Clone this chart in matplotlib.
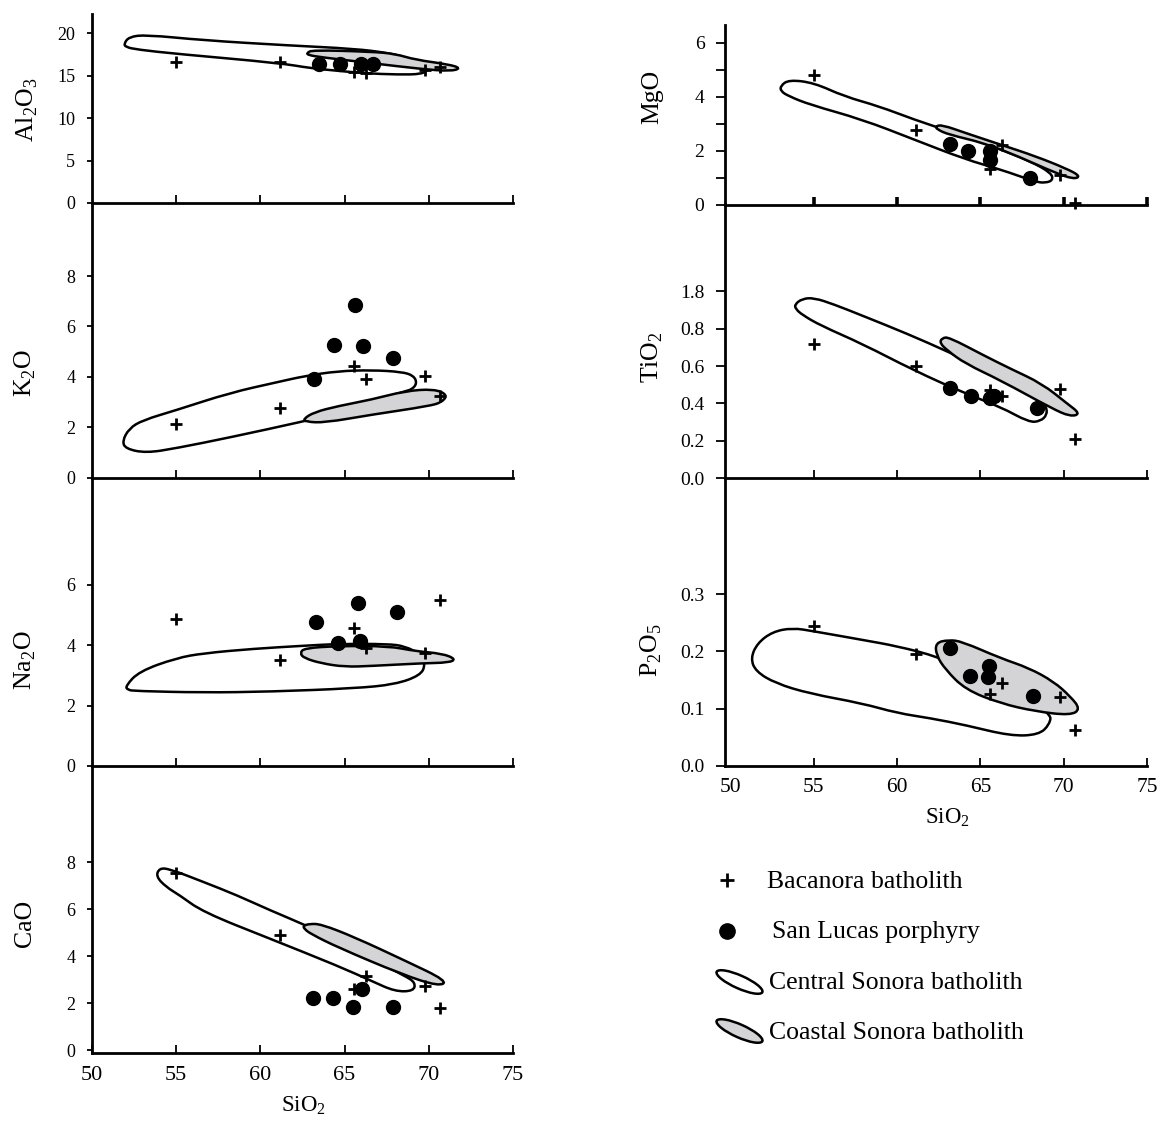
"""
Harker diagrams: Bacanora batholith vs San Lucas porphyry,
with Central / Coastal Sonora batholith fields.
"""

import matplotlib
matplotlib.use("Agg")
import matplotlib.pyplot as plt
from matplotlib.patches import PathPatch, Ellipse
from matplotlib.path import Path

plt.rcParams["font.family"] = ["Liberation Serif", "DejaVu Serif"]
plt.rcParams["mathtext.fontset"] = "custom"
plt.rcParams["mathtext.rm"] = "Liberation Serif"

W, H = 1163, 1121
COAST_GRAY = "#d4d4d6"

# ── Bacanora batholith (+) ─────────────────────────────────────────────────────
BAC_SIO2 = [55.0, 61.15, 65.55, 66.3, 69.8, 70.65]
BAC_AL2O3 = [16.6, 16.6, 15.5, 15.3, 15.7, 16.1]
BAC_K2O = [2.15, 2.75, 4.45, 3.9, 4.05, 3.25]
BAC_NA2O = [4.85, 3.5, 4.55, 3.9, 3.75, 5.5]
BAC_CAO = [7.55, 4.9, 2.6, 3.15, 2.75, 1.8]
BAC_MGO = [4.8, 2.75, 1.3, 2.2, 1.1, 0.05]
BAC_TIO2 = [0.72, 0.60, 0.47, 0.44, 0.48, 0.21]
BAC_P2O5 = [0.245, 0.195, 0.125, 0.145, 0.12, 0.063]

# ── San Lucas porphyry (●) ─────────────────────────────────────────────────────
SL_AL2O3_X = [63.5, 64.75, 66.0, 66.7]
SL_AL2O3_Y = [16.4, 16.45, 16.45, 16.45]
SL_K2O_X = [63.2, 64.4, 65.6, 66.1, 67.9]
SL_K2O_Y = [3.9, 5.25, 6.87, 5.22, 4.73]
SL_NA2O_X = [63.3, 64.6, 65.8, 65.9, 68.1]
SL_NA2O_Y = [4.75, 4.07, 5.4, 4.12, 5.1]
SL_CAO_X = [63.1, 64.3, 65.5, 66.05, 67.9]
SL_CAO_Y = [2.22, 2.22, 1.82, 2.62, 1.82]
SL_MGO_X = [63.15, 64.25, 65.6, 65.55, 67.95]
SL_MGO_Y = [2.25, 1.97, 1.97, 1.65, 1.0]
SL_TIO2_X = [63.2, 64.45, 65.6, 65.8, 68.4]
SL_TIO2_Y = [0.485, 0.44, 0.43, 0.44, 0.375]
SL_P2O5_X = [63.2, 64.4, 65.5, 65.45, 68.15]
SL_P2O5_Y = [0.205, 0.156, 0.174, 0.155, 0.121]

# ── Central Sonora batholith fields (outline, SiO2 vs oxide) ───────────────────
CSB_AL2O3 = [(51.9, 18.8), (52.2, 19.6), (53.2, 19.85), (56.6, 19.2), (61.6, 18.6),
             (65.6, 18.2), (67.6, 17.7), (68.6, 17.2), (69.6, 16.4), (70.0, 15.8),
             (69.6, 15.2), (68.2, 15.15), (66.2, 15.3), (64.6, 15.6), (63.0, 15.9),
             (61.2, 16.5), (55.0, 17.6), (52.7, 18.1), (52.0, 18.4)]
CSB_K2O = [(51.8, 1.45), (52.2, 1.95), (53.0, 2.28), (55.0, 2.68), (58.2, 3.37),
           (61.0, 3.79), (62.6, 4.03), (64.6, 4.23), (66.6, 4.27), (68.4, 4.2),
           (69.1, 4.05), (69.3, 3.75), (69.0, 3.5), (68.6, 3.44), (64.6, 2.57),
           (62.6, 2.24), (58.2, 1.6), (55.0, 1.17), (53.2, 0.98), (52.0, 1.15)]
CSB_NA2O = [(52.0, 2.65), (52.8, 3.13), (55.0, 3.57), (56.6, 3.73), (59.6, 3.88),
            (62.6, 3.98), (64.6, 4.04), (67.6, 4.04), (68.6, 3.96), (69.5, 3.7),
            (69.8, 3.35), (69.5, 3.0), (68.0, 2.7), (65.6, 2.57), (60.6, 2.46),
            (56.6, 2.43), (52.6, 2.48), (52.1, 2.52)]
CSB_CAO = [(54.0, 7.75), (54.6, 7.72), (56.6, 7.17), (58.6, 6.6), (60.6, 5.95),
           (62.6, 5.35), (64.6, 4.66), (66.6, 3.88), (68.6, 3.16), (69.2, 2.88),
           (69.1, 2.52), (68.0, 2.5), (66.6, 2.95), (64.6, 3.59), (60.6, 4.74),
           (56.6, 5.88), (55.2, 6.6), (54.4, 6.95), (53.8, 7.4)]
CSB_MGO = [(53.0, 4.4), (53.5, 4.62), (55.0, 4.51), (56.8, 4.01), (58.9, 3.64),
           (61.0, 3.15), (63.1, 2.72), (65.2, 2.28), (66.2, 2.04), (68.0, 1.6),
           (69.25, 1.17), (69.35, 0.9), (68.9, 0.8), (68.3, 0.84), (66.2, 1.3),
           (64.1, 1.67), (61.0, 2.41), (57.9, 3.15), (54.75, 3.7), (53.5, 4.01),
           (53.0, 4.2)]
CSB_TIO2 = [(53.85, 0.93), (54.3, 0.96), (55.0, 0.965), (56.2, 0.93), (57.9, 0.87),
            (60.6, 0.773), (63.1, 0.675), (65.2, 0.586), (67.25, 0.488), (68.7, 0.417),
            (68.95, 0.382), (69.0, 0.34), (68.6, 0.305), (67.9, 0.3), (66.2, 0.382),
            (64.1, 0.453), (61.0, 0.577), (57.9, 0.719), (55.4, 0.817), (54.3, 0.874),
            (53.9, 0.906)]
CSB_P2O5 = [(51.2, 0.188), (51.6, 0.214), (52.5, 0.234), (53.7, 0.241), (55.0, 0.235),
            (57.9, 0.22), (60.0, 0.209), (62.4, 0.191), (66.0, 0.15), (69.25, 0.092),
            (69.15, 0.072), (68.5, 0.054), (66.8, 0.052), (64.1, 0.071), (62.0, 0.083),
            (60.0, 0.092), (57.9, 0.109), (54.75, 0.126), (52.7, 0.144), (51.5, 0.165)]

# ── Coastal Sonora batholith fields ────────────────────────────────────────────
COA_AL2O3 = [(62.75, 17.7), (63.1, 18.05), (66.6, 17.85), (68.0, 17.6), (69.2, 16.9),
             (71.2, 16.35), (71.9, 15.9), (71.3, 15.55), (69.6, 15.8), (66.6, 16.5),
             (63.6, 17.2), (62.85, 17.45)]
COA_K2O = [(62.55, 2.33), (63.2, 2.6), (64.6, 2.84), (66.6, 3.1), (68.6, 3.44),
           (70.3, 3.52), (71.1, 3.3), (70.8, 3.0), (70.0, 2.84), (66.6, 2.5),
           (63.8, 2.18), (62.7, 2.22)]
COA_NA2O = [(62.35, 3.73), (62.6, 3.9), (64.6, 3.97), (67.6, 3.97), (69.2, 3.8),
            (70.8, 3.72), (71.6, 3.54), (71.2, 3.42), (69.6, 3.4), (66.6, 3.31),
            (65.0, 3.28), (63.6, 3.4), (62.6, 3.57)]
COA_CAO = [(62.55, 5.3), (62.9, 5.38), (63.6, 5.37), (65.6, 4.81), (68.6, 3.81),
           (71.1, 2.95), (70.6, 2.72), (68.4, 3.23), (64.6, 4.38), (63.0, 4.95),
           (62.6, 5.17)]
COA_MGO = [(62.3, 2.9), (62.7, 2.95), (64.1, 2.65), (66.2, 2.22), (68.3, 1.79),
           (70.2, 1.32), (71.0, 1.05), (70.6, 0.94), (69.5, 1.17), (67.25, 1.79),
           (65.2, 2.28), (63.1, 2.59), (62.4, 2.78)]
COA_TIO2 = [(62.55, 0.725), (62.7, 0.75), (63.1, 0.755), (65.2, 0.657), (66.8, 0.586),
            (68.7, 0.506), (70.2, 0.4), (71.0, 0.345), (70.4, 0.33), (69.3, 0.373),
            (66.2, 0.524), (64.1, 0.613), (63.0, 0.684)]
COA_P2O5 = [(62.3, 0.215), (63.1, 0.22), (63.9, 0.217), (66.2, 0.188), (67.9, 0.171),
            (69.4, 0.147), (70.4, 0.121), (71.0, 0.099), (70.4, 0.088), (68.3, 0.095),
            (66.2, 0.109), (64.1, 0.133), (62.9, 0.168), (62.35, 0.193)]

# ── Axis ticks / labels ────────────────────────────────────────────────────────
SIO2_TICKS = [50, 55, 60, 65, 70, 75]
AL2O3_TICKS = [0, 5, 10, 15, 20]
K2O_TICKS = [0, 2, 4, 6, 8]
NA2O_TICKS = [0, 2, 4, 6]
CAO_TICKS = [0, 2, 4, 6, 8]
MGO_TICKS = [0, 1, 2, 3, 4, 5, 6]
MGO_LABELS = ["0", "", "2", "", "4", "", "6"]
TIO2_TICKS = [0.0, 0.2, 0.4, 0.6, 0.8, 1.0]
TIO2_LABELS = ["0.0", "0.2", "0.4", "0.6", "0.8", "1.8"]
P2O5_TICKS = [0.0, 0.1, 0.2, 0.3]
P2O5_LABELS = ["0.0", "0.1", "0.2", "0.3"]

SERIF = "Liberation Serif"


def px_axes(fig, x0, x1, ytop, ybot):
    return fig.add_axes([x0 / W, 1 - ybot / H, (x1 - x0) / W, (ybot - ytop) / H])


def smooth_outline(pts):
    """Closed outline drawn with quadratic curves through edge midpoints."""
    n = len(pts)
    mids = [((pts[i][0] + pts[(i + 1) % n][0]) / 2,
             (pts[i][1] + pts[(i + 1) % n][1]) / 2) for i in range(n)]
    verts = [mids[-1]]
    codes = [Path.MOVETO]
    for i in range(n):
        verts += [pts[i], mids[i]]
        codes += [Path.CURVE3, Path.CURVE3]
    verts.append(mids[-1])
    codes.append(Path.CLOSEPOLY)
    return Path(verts, codes)


def draw_panel(ax, csb, coa, bx, by, sx, sy):
    ax.add_patch(PathPatch(smooth_outline(csb), facecolor="white", edgecolor="black",
                           lw=1.8, zorder=2))
    ax.add_patch(PathPatch(smooth_outline(coa), facecolor=COAST_GRAY, edgecolor="black",
                           lw=1.8, zorder=3))
    ax.plot(sx, sy, "o", color="black", ms=10, zorder=5, clip_on=False)
    ax.plot(bx, by, "+", color="black", ms=8, mew=2.0, zorder=6, clip_on=False)


def style(ax, xlim, ylim, yticks, ylabels, ysize, ylen, ypad,
          bottom=False, xsize=16, thick=False, hide50=False):
    ax.set_xlim(*xlim)
    ax.set_ylim(*ylim)
    ax.patch.set_alpha(0)
    for s in ("top", "right"):
        ax.spines[s].set_visible(False)
    for s in ("left", "bottom"):
        ax.spines[s].set_linewidth(2.0)
    ax.set_yticks(yticks)
    ax.set_yticklabels(ylabels, fontfamily=SERIF)
    ax.tick_params(axis="y", direction="out", length=ylen, width=1.3,
                   pad=ypad, labelsize=ysize)
    if bottom:
        ax.set_xticks(SIO2_TICKS)
        ax.set_xticklabels([str(t) for t in SIO2_TICKS], fontfamily=SERIF)
        ax.tick_params(axis="x", direction="in", length=6, width=1.3,
                       pad=9, labelsize=xsize)
        if hide50:
            ax.xaxis.get_major_ticks()[0].tick1line.set_visible(False)
    else:
        ax.set_xticks(SIO2_TICKS[1:])
        ax.tick_params(axis="x", direction="in", length=6,
                       width=2.6 if thick else 1.3, labelbottom=False)


fig = plt.figure(figsize=(W / 100, H / 100), dpi=100)
fig.patch.set_facecolor("white")

LX0, LX1 = 92, 513
RX0, RX1 = 725, 1147
LXLIM = (50, 75)
RXLIM = (49.66, 75)

# Left column
ax = px_axes(fig, LX0, LX1, 14, 203)
draw_panel(ax, CSB_AL2O3, COA_AL2O3, BAC_SIO2, BAC_AL2O3, SL_AL2O3_X, SL_AL2O3_Y)
style(ax, LXLIM, (0, 22.3), AL2O3_TICKS, [str(t) for t in AL2O3_TICKS], 13, 3.6, 8.4)

ax = px_axes(fig, LX0, LX1, 203, 477.7)
draw_panel(ax, CSB_K2O, COA_K2O, BAC_SIO2, BAC_K2O, SL_K2O_X, SL_K2O_Y)
style(ax, LXLIM, (0, 10.9), K2O_TICKS, [str(t) for t in K2O_TICKS], 13, 3.6, 8.4)

ax = px_axes(fig, LX0, LX1, 477.7, 766)
draw_panel(ax, CSB_NA2O, COA_NA2O, BAC_SIO2, BAC_NA2O, SL_NA2O_X, SL_NA2O_Y)
style(ax, LXLIM, (0, 9.54), NA2O_TICKS, [str(t) for t in NA2O_TICKS], 13, 3.6, 8.4)

ax = px_axes(fig, LX0, LX1, 766, 1053.3)
draw_panel(ax, CSB_CAO, COA_CAO, BAC_SIO2, BAC_CAO, SL_CAO_X, SL_CAO_Y)
style(ax, LXLIM, (-0.13, 12.1), CAO_TICKS, [str(t) for t in CAO_TICKS], 13, 3.6, 8.4,
      bottom=True, xsize=16)

# Right column
ax = px_axes(fig, RX0, RX1, 25, 204.5)
draw_panel(ax, CSB_MGO, COA_MGO, BAC_SIO2, BAC_MGO, SL_MGO_X, SL_MGO_Y)
style(ax, RXLIM, (0, 6.65), MGO_TICKS, MGO_LABELS, 14, 6.2, 8.6, thick=True)

ax = px_axes(fig, RX0, RX1, 204.5, 478.3)
draw_panel(ax, CSB_TIO2, COA_TIO2, BAC_SIO2, BAC_TIO2, SL_TIO2_X, SL_TIO2_Y)
style(ax, RXLIM, (0, 1.464), TIO2_TICKS, TIO2_LABELS, 14, 6.2, 8.6)

ax = px_axes(fig, RX0, RX1, 478.3, 765.7)
draw_panel(ax, CSB_P2O5, COA_P2O5, BAC_SIO2, BAC_P2O5, SL_P2O5_X, SL_P2O5_Y)
style(ax, RXLIM, (0, 0.5025), P2O5_TICKS, P2O5_LABELS, 14, 6.2, 8.6,
      bottom=True, xsize=15.5, hide50=True)

# Axis titles
YLABELS = [
    (27, 110, r"Al$_\mathregular{2}$O$_\mathregular{3}$"),
    (25, 373, r"K$_\mathregular{2}$O"),
    (25, 660, r"Na$_\mathregular{2}$O"),
    (25, 923, "CaO"),
    (652, 97, "MgO"),
    (652, 357, r"TiO$_\mathregular{2}$"),
    (651, 650, r"P$_\mathregular{2}$O$_\mathregular{5}$"),
]
for x, y, txt in YLABELS:
    fig.text(x / W, 1 - y / H, txt, rotation=90, ha="center", va="center",
             fontsize=18.5)
fig.text(303 / W, 1 - 1106 / H, r"SiO$_\mathregular{2}$", ha="center", va="center",
         fontsize=16.5)
fig.text(947 / W, 1 - 818 / H, r"SiO$_\mathregular{2}$", ha="center", va="center",
         fontsize=16.5)

# Legend (drawn in pixel space)
lg = fig.add_axes([0, 0, 1, 1])
lg.set_xlim(0, W)
lg.set_ylim(H, 0)
lg.axis("off")
lg.patch.set_alpha(0)
lg.plot([727], [880], "+", color="black", ms=10, mew=2.0)
lg.text(767, 882, "Bacanora batholith", fontsize=18.5, va="center", ha="left")
lg.plot([727], [931], "o", color="black", ms=11)
lg.text(772, 932, "San Lucas porphyry", fontsize=18.5, va="center", ha="left")
lg.add_patch(Ellipse((739.5, 982), 50, 13, angle=24, facecolor="white",
                     edgecolor="black", lw=1.8))
lg.text(769, 983, "Central Sonora batholith", fontsize=18.5, va="center", ha="left")
lg.add_patch(Ellipse((739.5, 1031), 50, 13, angle=24, facecolor=COAST_GRAY,
                     edgecolor="black", lw=1.8))
lg.text(769, 1033, "Coastal Sonora batholith", fontsize=18.5, va="center", ha="left")

fig.savefig("out.png", dpi=100, facecolor="white")
